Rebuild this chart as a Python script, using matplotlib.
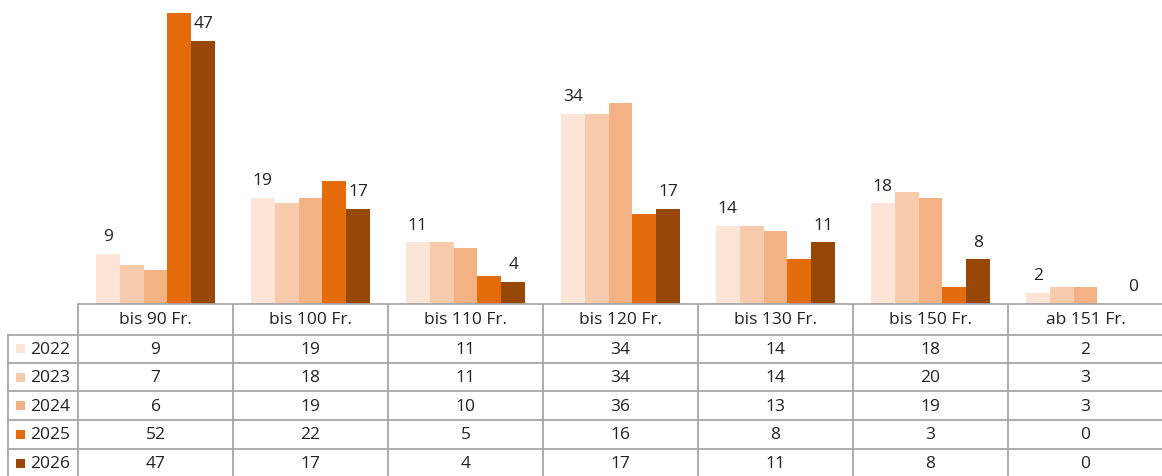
import numpy as np
import matplotlib.pyplot as plt
from matplotlib.patches import Rectangle

plt.rcParams['font.family'] = ['Open Sans', 'DejaVu Sans']

# data
categories = ['bis 90 Fr.', 'bis 100 Fr.', 'bis 110 Fr.', 'bis 120 Fr.',
              'bis 130 Fr.', 'bis 150 Fr.', 'ab 151 Fr.']
years = ['2022', '2023', '2024', '2025', '2026']
v2022 = [9, 19, 11, 34, 14, 18, 2]
v2023 = [7, 18, 11, 34, 14, 20, 3]
v2024 = [6, 19, 10, 36, 13, 19, 3]
v2025 = [52, 22, 5, 16, 8, 3, 0]
v2026 = [47, 17, 4, 17, 11, 8, 0]
series = [v2022, v2023, v2024, v2025, v2026]
colors = ['#FCE4D6', '#F8CBAD', '#F4B183', '#E46C0A', '#974706']
labelled = [0, 4]  # only first and last year get value labels

W, H = 1162, 477
fig = plt.figure(figsize=(W / 100, H / 100), dpi=100)

# pixel layout
left_px, col_w = 78, 155
base_px = 305
ax = fig.add_axes([left_px / W, (H - base_px) / H, col_w * 7 / W, base_px / H])

n = len(years)
bw = 0.154
x = np.arange(len(categories))
for i, (vals, c) in enumerate(zip(series, colors)):
    pos = x + (i - (n - 1) / 2) * bw
    bars = ax.bar(pos, vals, bw, color=c, linewidth=0, zorder=2)
    if i in labelled:
        for b, v in zip(bars, vals):
            ax.annotate(str(v), (b.get_x() + b.get_width() / 2, v),
                        xytext=(0, 7), textcoords='offset points',
                        ha='center', va='bottom', fontsize=12.5, color='#222222')

ax.set_xlim(-0.5, len(categories) - 0.5)
ax.set_ylim(0, base_px / 5.596)
ax.axis('off')

# data table underneath, drawn in pixel coordinates
tx = fig.add_axes([0, 0, 1, (H - base_px) / H])
tx.set_xlim(0, W)
tx.set_ylim(H, base_px)
tx.axis('off')

line_c = '#A6A6A6'
lw = 1.3
row_lines = [base_px, 335.5, 364, 392.5, 421, 450, H + 5]
table_left = 8
right = W + 5

# header row top (axis line) and horizontal lines
tx.plot([left_px, right], [base_px, base_px], color=line_c, lw=lw, clip_on=False)
for y in row_lines[1:-1]:
    tx.plot([table_left, right], [y, y], color=line_c, lw=lw)
# vertical lines
for j in range(len(categories) + 1):
    xc = left_px + j * col_w
    tx.plot([xc, xc], [base_px, H + 5], color=line_c, lw=lw)
tx.plot([table_left, table_left], [row_lines[1], H + 5], color=line_c, lw=lw)

txt_c = '#222222'
for j, cat in enumerate(categories):
    xc = left_px + (j + 0.5) * col_w
    tx.text(xc, (row_lines[0] + row_lines[1]) / 2, cat, ha='center', va='center',
            fontsize=12.5, color=txt_c)
for i, (yr, vals, c) in enumerate(zip(years, series, colors)):
    yc = (row_lines[i + 1] + row_lines[i + 2]) / 2
    if i == n - 1:
        yc = row_lines[i + 1] + 14.5
    tx.add_patch(Rectangle((16, yc - 4.5), 9, 9, color=c, linewidth=0))
    tx.text(30, yc, yr, ha='left', va='center', fontsize=12.5, color=txt_c)
    for j, v in enumerate(vals):
        tx.text(left_px + (j + 0.5) * col_w, yc, str(v), ha='center', va='center',
                fontsize=12.5, color=txt_c)

fig.savefig('out.png', dpi=100)
